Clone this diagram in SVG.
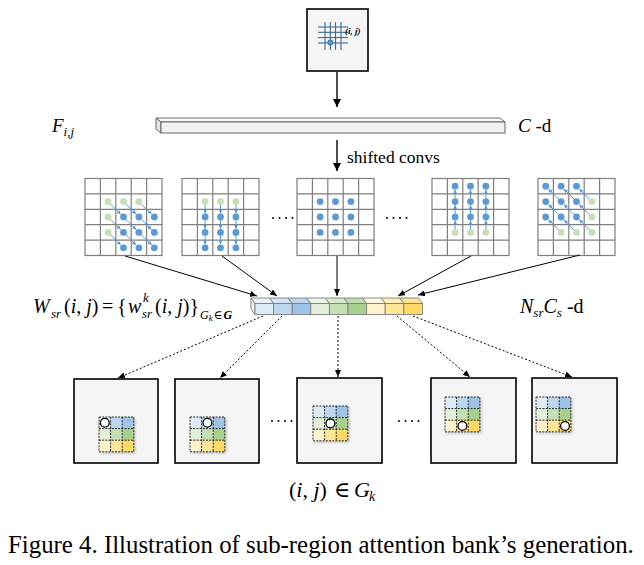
<svg xmlns="http://www.w3.org/2000/svg" width="644" height="565" viewBox="0 0 644 565">
<style>
.m{font-family:"Liberation Serif","DejaVu Serif",serif;fill:#000}
.it{font-style:italic}
.bd{fill:#5b9bd5}
.gd{fill:#c5e0b4}
.ba{stroke:#5b9bd5;stroke-width:1;marker-end:url(#ab)}
.box{fill:#f5f5f5;stroke:#000;stroke-width:1.6}
.sc{stroke:#000;stroke-width:0.8;stroke-dasharray:2,1.2}
.cir{fill:#fff;stroke:#000;stroke-width:1.3}
.solid{stroke:#000;stroke-width:1;fill:none;marker-end:url(#as)}
.dot{stroke:#000;stroke-width:1;stroke-dasharray:2,2;fill:none;marker-end:url(#as)}
.big{stroke:#000;stroke-width:1.4;fill:none;marker-end:url(#ah)}
</style>
<defs>
<marker id="ah" markerUnits="userSpaceOnUse" markerWidth="8" markerHeight="8" refX="8" refY="4" orient="auto"><path d="M0,0 L8,4 L0,8 z" fill="#000"/></marker>
<marker id="as" markerUnits="userSpaceOnUse" markerWidth="7" markerHeight="6" refX="7" refY="3" orient="auto"><path d="M0,0 L7,3 L0,6 z" fill="#000"/></marker>
<marker id="ab" markerUnits="userSpaceOnUse" markerWidth="4" markerHeight="4" refX="4" refY="2" orient="auto"><path d="M0,0 L4,2 L0,4 z" fill="#5b9bd5"/></marker>
<g id="g5">
<rect x="0" y="0" width="77" height="77" fill="#fff" stroke="#7f7f7f" stroke-width="1.2"/>
<path d="M15.4,0 V77 M30.8,0 V77 M46.2,0 V77 M61.6,0 V77 M0,15.4 H77 M0,30.8 H77 M0,46.2 H77 M0,61.6 H77" stroke="#7f7f7f" stroke-width="1.2"/>
</g>
<filter id="sh" x="-20%" y="-20%" width="150%" height="150%"><feDropShadow dx="1.5" dy="1.5" stdDeviation="1" flood-opacity="0.2"/></filter>
<g id="mini">
<rect x="0" y="0" width="11.6" height="11.6" fill="#deebf7"/><rect x="11.6" y="0" width="11.6" height="11.6" fill="#bdd7ee"/><rect x="23.2" y="0" width="11.6" height="11.6" fill="#9dc3e6"/>
<rect x="0" y="11.6" width="11.6" height="11.6" fill="#e2f0d9"/><rect x="11.6" y="11.6" width="11.6" height="11.6" fill="#c5e0b4"/><rect x="23.2" y="11.6" width="11.6" height="11.6" fill="#a9d18e"/>
<rect x="0" y="23.2" width="11.6" height="11.6" fill="#fff2cc"/><rect x="11.6" y="23.2" width="11.6" height="11.6" fill="#ffe699"/><rect x="23.2" y="23.2" width="11.6" height="11.6" fill="#ffd966"/>
<path class="sc" d="M0,0 H34.8 V34.8 H0 Z M0,11.6 H34.8 M0,23.2 H34.8 M11.6,0 V34.8 M23.2,0 V34.8" fill="none"/>
</g>
</defs>
<rect width="644" height="565" fill="#fff"/>

<g id="input">
<rect x="307" y="9" width="61" height="62" class="box"/>
<path d="M318,27 H348 M318,32.3 H348 M318,37.6 H348 M318,43 H348 M325,22 V50 M330.3,22 V50 M335.6,22 V50 M341,22 V50" stroke="#2e5d8a" stroke-width="1"/>
<circle cx="330.3" cy="42.5" r="2.6" fill="#5b9bd5" stroke="#2e5d8a" stroke-width="0.8"/>
<text class="m" x="345" y="34" font-size="9" font-style="italic" font-weight="bold">(i, j)</text>
</g>

<g id="feature">
<path d="M156,118 L500,118 L505,122 L161,122 Z" fill="#fafafa" stroke="#595959" stroke-width="0.9"/>
<path d="M156,118 L161,122 L161,133 L156,129 Z" fill="#e6e6e6" stroke="#595959" stroke-width="0.9"/>
<rect x="161" y="122" width="344" height="11" fill="#f2f2f2" stroke="#595959" stroke-width="0.9"/>
<text class="m" x="52" y="132" font-size="19"><tspan class="it">F</tspan><tspan class="it" font-size="13" dy="4">i,j</tspan></text>
<text class="m" x="518" y="132" font-size="19"><tspan class="it">C</tspan> -d</text>
</g>

<g id="label-shift"><text class="m" x="347" y="163" font-size="17.5">shifted convs</text></g>

<g id="grid1">
<use href="#g5" x="85" y="178.5"/>
<g class="ba">
<line x1="110.5" y1="204" x2="120.7" y2="214.2"/><line x1="125.9" y1="204" x2="136.1" y2="214.2"/><line x1="141.3" y1="204" x2="151.5" y2="214.2"/>
<line x1="110.5" y1="219.4" x2="120.7" y2="229.6"/><line x1="125.9" y1="219.4" x2="136.1" y2="229.6"/><line x1="141.3" y1="219.4" x2="151.5" y2="229.6"/>
<line x1="110.5" y1="234.8" x2="120.7" y2="245"/><line x1="125.9" y1="234.8" x2="136.1" y2="245"/><line x1="141.3" y1="234.8" x2="151.5" y2="245"/>
</g>
<g class="gd"><circle cx="108.1" cy="201.6" r="3.4"/><circle cx="123.5" cy="201.6" r="3.4"/><circle cx="138.9" cy="201.6" r="3.4"/><circle cx="108.1" cy="217" r="3.4"/><circle cx="108.1" cy="232.4" r="3.4"/></g>
<g class="bd"><circle cx="123.5" cy="217" r="3.4"/><circle cx="138.9" cy="217" r="3.4"/><circle cx="154.3" cy="217" r="3.4"/><circle cx="123.5" cy="232.4" r="3.4"/><circle cx="138.9" cy="232.4" r="3.4"/><circle cx="154.3" cy="232.4" r="3.4"/><circle cx="123.5" cy="247.8" r="3.4"/><circle cx="138.9" cy="247.8" r="3.4"/><circle cx="154.3" cy="247.8" r="3.4"/></g>
</g>

<g id="grid2">
<use href="#g5" x="182" y="178.5"/>
<g class="ba">
<line x1="205.1" y1="205" x2="205.1" y2="213.5"/><line x1="220.5" y1="205" x2="220.5" y2="213.5"/><line x1="235.9" y1="205" x2="235.9" y2="213.5"/>
<line x1="205.1" y1="220.4" x2="205.1" y2="228.9"/><line x1="220.5" y1="220.4" x2="220.5" y2="228.9"/><line x1="235.9" y1="220.4" x2="235.9" y2="228.9"/>
<line x1="205.1" y1="235.8" x2="205.1" y2="244.3"/><line x1="220.5" y1="235.8" x2="220.5" y2="244.3"/><line x1="235.9" y1="235.8" x2="235.9" y2="244.3"/>
</g>
<g class="gd"><circle cx="205.1" cy="201.6" r="3.4"/><circle cx="220.5" cy="201.6" r="3.4"/><circle cx="235.9" cy="201.6" r="3.4"/></g>
<g class="bd"><circle cx="205.1" cy="217" r="3.4"/><circle cx="220.5" cy="217" r="3.4"/><circle cx="235.9" cy="217" r="3.4"/><circle cx="205.1" cy="232.4" r="3.4"/><circle cx="220.5" cy="232.4" r="3.4"/><circle cx="235.9" cy="232.4" r="3.4"/><circle cx="205.1" cy="247.8" r="3.4"/><circle cx="220.5" cy="247.8" r="3.4"/><circle cx="235.9" cy="247.8" r="3.4"/></g>
</g>

<g id="grid3">
<use href="#g5" x="297" y="178.5"/>
<g class="bd"><circle cx="320.1" cy="201.6" r="3.4"/><circle cx="335.5" cy="201.6" r="3.4"/><circle cx="350.9" cy="201.6" r="3.4"/><circle cx="320.1" cy="217" r="3.4"/><circle cx="335.5" cy="217" r="3.4"/><circle cx="350.9" cy="217" r="3.4"/><circle cx="320.1" cy="232.4" r="3.4"/><circle cx="335.5" cy="232.4" r="3.4"/><circle cx="350.9" cy="232.4" r="3.4"/></g>
</g>

<g id="grid4">
<use href="#g5" x="432" y="178.5"/>
<g class="ba">
<line x1="455.1" y1="198.2" x2="455.1" y2="189.7"/><line x1="470.5" y1="198.2" x2="470.5" y2="189.7"/><line x1="485.9" y1="198.2" x2="485.9" y2="189.7"/>
<line x1="455.1" y1="213.6" x2="455.1" y2="205.1"/><line x1="470.5" y1="213.6" x2="470.5" y2="205.1"/><line x1="485.9" y1="213.6" x2="485.9" y2="205.1"/>
<line x1="455.1" y1="229" x2="455.1" y2="220.5"/><line x1="470.5" y1="229" x2="470.5" y2="220.5"/><line x1="485.9" y1="229" x2="485.9" y2="220.5"/>
</g>
<g class="gd"><circle cx="455.1" cy="232.4" r="3.4"/><circle cx="470.5" cy="232.4" r="3.4"/><circle cx="485.9" cy="232.4" r="3.4"/></g>
<g class="bd"><circle cx="455.1" cy="186.2" r="3.4"/><circle cx="470.5" cy="186.2" r="3.4"/><circle cx="485.9" cy="186.2" r="3.4"/><circle cx="455.1" cy="201.6" r="3.4"/><circle cx="470.5" cy="201.6" r="3.4"/><circle cx="485.9" cy="201.6" r="3.4"/><circle cx="455.1" cy="217" r="3.4"/><circle cx="470.5" cy="217" r="3.4"/><circle cx="485.9" cy="217" r="3.4"/></g>
</g>

<g id="grid5">
<use href="#g5" x="538" y="178.5"/>
<g class="ba">
<line x1="558.7" y1="199.2" x2="548.5" y2="189"/><line x1="574.1" y1="199.2" x2="563.9" y2="189"/><line x1="589.5" y1="199.2" x2="579.3" y2="189"/>
<line x1="558.7" y1="214.6" x2="548.5" y2="204.4"/><line x1="574.1" y1="214.6" x2="563.9" y2="204.4"/><line x1="589.5" y1="214.6" x2="579.3" y2="204.4"/>
<line x1="558.7" y1="230" x2="548.5" y2="219.8"/><line x1="574.1" y1="230" x2="563.9" y2="219.8"/><line x1="589.5" y1="230" x2="579.3" y2="219.8"/>
</g>
<g class="gd"><circle cx="591.9" cy="201.6" r="3.4"/><circle cx="591.9" cy="217" r="3.4"/><circle cx="561.1" cy="232.4" r="3.4"/><circle cx="576.5" cy="232.4" r="3.4"/><circle cx="591.9" cy="232.4" r="3.4"/></g>
<g class="bd"><circle cx="545.7" cy="186.2" r="3.4"/><circle cx="561.1" cy="186.2" r="3.4"/><circle cx="576.5" cy="186.2" r="3.4"/><circle cx="545.7" cy="201.6" r="3.4"/><circle cx="561.1" cy="201.6" r="3.4"/><circle cx="576.5" cy="201.6" r="3.4"/><circle cx="545.7" cy="217" r="3.4"/><circle cx="561.1" cy="217" r="3.4"/><circle cx="576.5" cy="217" r="3.4"/></g>
</g>

<g id="ellipses" fill="#000">
<circle cx="273" cy="218" r="1"/><circle cx="279.5" cy="218" r="1"/><circle cx="286" cy="218" r="1"/><circle cx="292.5" cy="218" r="1"/>
<circle cx="387" cy="218" r="1"/><circle cx="393.5" cy="218" r="1"/><circle cx="400" cy="218" r="1"/><circle cx="406.5" cy="218" r="1"/>
<circle cx="272" cy="421" r="1"/><circle cx="278.5" cy="421" r="1"/><circle cx="285" cy="421" r="1"/><circle cx="291.5" cy="421" r="1"/>
<circle cx="399" cy="421" r="1"/><circle cx="405.5" cy="421" r="1"/><circle cx="412" cy="421" r="1"/><circle cx="418.5" cy="421" r="1"/>
</g>

<g id="bank">
<g stroke="#7f7f7f" stroke-width="0.9">
<path d="M251,298 L255,303.5 L255,314.5 L251,309 Z" fill="#eaf2fa"/>
<path d="M251,298 H269.6 L273.6,303.5 H255 Z" fill="#e8f1fa"/>
<path d="M269.6,298 H288.2 L292.2,303.5 H273.6 Z" fill="#d3e4f4"/>
<path d="M288.2,298 H306.8 L310.8,303.5 H292.2 Z" fill="#bcd6ee"/>
<path d="M306.8,298 H325.4 L329.4,303.5 H310.8 Z" fill="#ebf5e6"/>
<path d="M325.4,298 H344 L348,303.5 H329.4 Z" fill="#d8eacc"/>
<path d="M344,298 H362.6 L366.6,303.5 H348 Z" fill="#c3dfb0"/>
<path d="M362.6,298 H381.2 L385.2,303.5 H366.6 Z" fill="#fff7e0"/>
<path d="M381.2,298 H399.8 L403.8,303.5 H385.2 Z" fill="#ffeeb8"/>
<path d="M399.8,298 H418.4 L422.4,303.5 H403.8 Z" fill="#ffe494"/>
<rect x="255" y="303.5" width="18.6" height="11" fill="#deebf7"/>
<rect x="273.6" y="303.5" width="18.6" height="11" fill="#bdd7ee"/>
<rect x="292.2" y="303.5" width="18.6" height="11" fill="#9dc3e6"/>
<rect x="310.8" y="303.5" width="18.6" height="11" fill="#e2f0d9"/>
<rect x="329.4" y="303.5" width="18.6" height="11" fill="#c5e0b4"/>
<rect x="348" y="303.5" width="18.6" height="11" fill="#a9d18e"/>
<rect x="366.6" y="303.5" width="18.6" height="11" fill="#fff2cc"/>
<rect x="385.2" y="303.5" width="18.6" height="11" fill="#ffe699"/>
<rect x="403.8" y="303.5" width="18.6" height="11" fill="#ffd966"/>
</g>
<text class="m it" x="33" y="313" font-size="20">W</text>
<text class="m it" x="51" y="318" font-size="13">sr</text>
<text class="m" x="64" y="313" font-size="20">(<tspan class="it">i</tspan>, <tspan class="it">j</tspan>)</text>
<text class="m" x="102" y="313" font-size="20">=</text>
<text class="m" x="117" y="313" font-size="20">{</text>
<text class="m it" x="128" y="313" font-size="20">w</text>
<text class="m it" x="143" y="302" font-size="13">k</text>
<text class="m it" x="142" y="318" font-size="13">sr</text>
<text class="m" x="155" y="313" font-size="20">(<tspan class="it">i</tspan>, <tspan class="it">j</tspan>)}</text>
<text class="m" x="200" y="319" font-size="12"><tspan class="it">G</tspan><tspan class="it" font-size="9" dy="2">k</tspan><tspan dy="-2" dx="1">∈</tspan><tspan class="it" font-weight="bold" dx="1">G</tspan></text>
<text class="m" x="520" y="313" font-size="20"><tspan class="it">N</tspan><tspan class="it" font-size="13" dy="4">sr</tspan><tspan class="it" dy="-4">C</tspan><tspan class="it" font-size="13" dy="4">s</tspan><tspan dy="-4"> -d</tspan></text>
</g>

<g id="out1"><rect x="74" y="379" width="84" height="84" class="box"/><use href="#mini" x="99" y="417" filter="url(#sh)"/><circle class="cir" cx="104.8" cy="422.8" r="4.4"/></g>
<g id="out2"><rect x="175" y="379" width="84" height="84" class="box"/><use href="#mini" x="190" y="417" filter="url(#sh)"/><circle class="cir" cx="207.4" cy="422.8" r="4.4"/></g>
<g id="out3"><rect x="297" y="378" width="85" height="85" class="box"/><use href="#mini" x="313" y="406" filter="url(#sh)"/><circle class="cir" cx="330.4" cy="423.4" r="4.4"/></g>
<g id="out4"><rect x="431" y="378" width="85" height="85" class="box"/><use href="#mini" x="445" y="397" filter="url(#sh)"/><circle class="cir" cx="462.4" cy="426" r="4.4"/></g>
<g id="out5"><rect x="532" y="378" width="85" height="85" class="box"/><use href="#mini" x="536" y="397" filter="url(#sh)"/><circle class="cir" cx="565" cy="426" r="4.4"/></g>

<g id="connectors">
<line class="big" x1="337" y1="72" x2="337" y2="107"/>
<line class="big" x1="337" y1="140" x2="337" y2="171"/>
<line class="solid" x1="125" y1="256" x2="257" y2="296"/>
<line class="solid" x1="222" y1="256" x2="277" y2="296"/>
<line class="solid" x1="337" y1="256" x2="337" y2="296"/>
<line class="solid" x1="471" y1="256" x2="398" y2="296"/>
<line class="solid" x1="580" y1="255" x2="418" y2="295"/>
<line class="dot" x1="263" y1="316" x2="118" y2="378"/>
<line class="dot" x1="282" y1="316" x2="220" y2="378"/>
<line class="dot" x1="338" y1="316" x2="338" y2="377"/>
<line class="dot" x1="397" y1="316" x2="470" y2="377"/>
<line class="dot" x1="413" y1="316" x2="572" y2="377"/>
</g>

<g id="bottom-label">
<text class="m" x="289" y="497" font-size="22">(<tspan class="it">i</tspan>, <tspan class="it">j</tspan>)</text>
<text class="m" x="334" y="497" font-size="22">∈</text>
<text class="m it" x="354" y="497" font-size="22">G</text>
<text class="m it" x="369" y="501" font-size="14">k</text>
</g>
<g id="caption"><text class="m" x="8" y="553" font-size="24.85">Figure 4. Illustration of sub-region attention bank’s generation.</text></g>
</svg>
